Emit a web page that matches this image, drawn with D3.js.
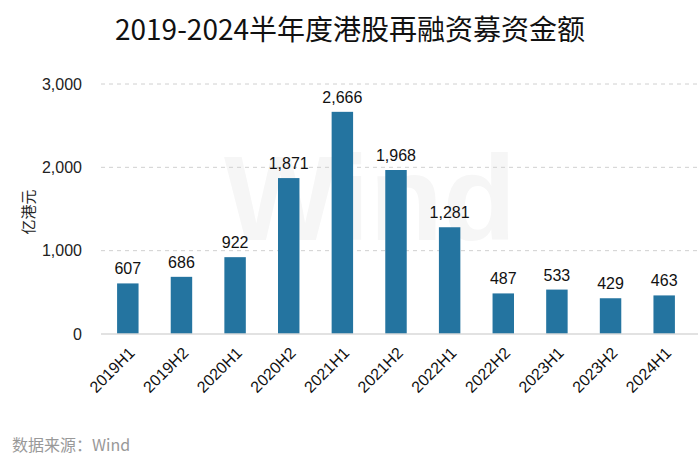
<!DOCTYPE html>
<html>
<head>
<meta charset="utf-8">
<script src="https://cdn.jsdelivr.net/npm/d3@7"></script>
<style>
  body { margin: 0; background: #fff; }
  svg { font-family: "Liberation Sans", Arial, "Noto Sans CJK SC", sans-serif; }
</style>
</head>
<body>
<svg id="chart" width="700" height="470"></svg>
<script>
const periods = ["2019H1", "2019H2", "2020H1", "2020H2", "2021H1", "2021H2", "2022H1", "2022H2", "2023H1", "2023H2", "2024H1"]
const amounts = [607, 686, 922, 1871, 2666, 1968, 1281, 487, 533, 429, 463]
const yTicks = [0, 1000, 2000, 3000]

const svg = d3.select("#chart")
const plotLeft = 101, plotRight = 691, plotTop = 84, plotBottom = 334

const x = d3.scaleBand().domain(periods).range([plotLeft, plotRight]).paddingInner(0.6).paddingOuter(0.3)
const y = d3.scaleLinear().domain([0, 3000]).range([plotBottom, plotTop])
const fmt = d3.format(",")

// watermark, very faint
svg.append("text")
  .attr("x", 370).attr("y", 240)
  .attr("text-anchor", "middle")
  .attr("font-size", 120).attr("font-weight", "bold")
  .attr("fill", "#f6f6f6")
  .text("Wind")

// title
svg.append("text")
  .attr("x", 350).attr("y", 40)
  .attr("text-anchor", "middle")
  .attr("font-family", "Noto Sans CJK SC")
  .attr("font-size", 28)
  .attr("fill", "#111")
  .text("2019-2024半年度港股再融资募资金额")

// grid lines
svg.append("g").selectAll("line")
  .data(yTicks.filter(d => d > 0))
  .join("line")
  .attr("x1", plotLeft).attr("x2", 698)
  .attr("y1", d => y(d)).attr("y2", d => y(d))
  .attr("stroke", "#d0d0d0")
  .attr("stroke-dasharray", "4,4")

// y axis
const yAxis = svg.append("g")
  .attr("transform", `translate(${plotLeft},0)`)
  .call(d3.axisLeft(y).tickValues(yTicks).tickFormat(fmt).tickSize(0).tickPadding(19))
yAxis.select(".domain").remove()
yAxis.selectAll("text").attr("font-size", 16).attr("fill", "#222")

svg.append("text")
  .attr("transform", "translate(34,212) rotate(-90)")
  .attr("text-anchor", "middle")
  .attr("font-family", "Noto Sans CJK SC")
  .attr("font-size", 15)
  .attr("fill", "#222")
  .text("亿港元")

// bars
svg.append("g").selectAll("rect")
  .data(amounts)
  .join("rect")
  .attr("x", (d, i) => x(periods[i]))
  .attr("y", d => y(d))
  .attr("width", x.bandwidth())
  .attr("height", d => y(0) - y(d))
  .attr("fill", "#2474a0")

svg.append("g").selectAll("text")
  .data(amounts)
  .join("text")
  .attr("x", (d, i) => x(periods[i]) + x.bandwidth() / 2)
  .attr("y", d => y(d) - 9)
  .attr("text-anchor", "middle")
  .attr("font-size", 16)
  .attr("fill", "#111")
  .text(d => fmt(d))

// x axis
const xAxis = svg.append("g")
  .attr("transform", `translate(0,${plotBottom})`)
  .call(d3.axisBottom(x).tickSize(0).tickPadding(0))
xAxis.select(".domain").attr("stroke", "#d9d9d9").attr("stroke-width", 1.5)
  .attr("d", `M${plotLeft},0H698`)
xAxis.selectAll("text")
  .attr("font-size", 16)
  .attr("fill", "#111")
  .attr("text-anchor", "end")
  .attr("dy", 0)
  .attr("transform", "translate(8,20) rotate(-45)")

// source
svg.append("text")
  .attr("x", 12).attr("y", 451)
  .attr("font-family", "Noto Sans CJK SC")
  .attr("font-size", 16)
  .attr("fill", "#999")
  .text("数据来源：Wind")
</script>
</body>
</html>
